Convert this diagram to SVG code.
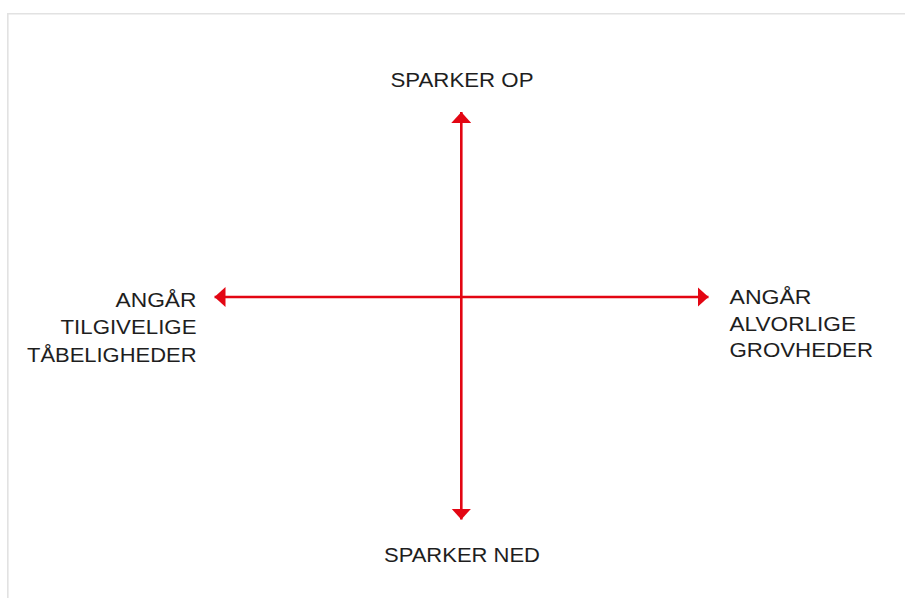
<svg xmlns="http://www.w3.org/2000/svg" width="905" height="598" viewBox="0 0 905 598">
  <style>
    .lbl { font-family: "Liberation Sans", Arial, sans-serif; font-size: 19.5px; fill: #1e1e1e; }
    .axis { stroke: #e30613; stroke-width: 2.6; fill: none; }
    .frame { stroke: #e2e2e2; stroke-width: 1.6; fill: none; }
  </style>
  <defs>
    <marker id="arrow" viewBox="0 0 11 20" refX="11" refY="10" markerWidth="11" markerHeight="20" markerUnits="userSpaceOnUse" orient="auto">
      <polygon points="0,0 11,10 0,20" fill="#e30613"/>
    </marker>
  </defs>
  <rect width="905" height="598" fill="#ffffff"/>
  <path class="frame" d="M7.8,598 V13.8 H905"/>

  <g id="connectors">
    <line class="axis" x1="461.3" y1="297" x2="461.3" y2="112" marker-end="url(#arrow)"/>
    <line class="axis" x1="461.3" y1="297" x2="461.3" y2="519.5" marker-end="url(#arrow)"/>
    <line class="axis" x1="461.3" y1="297" x2="214.5" y2="297" marker-end="url(#arrow)"/>
    <line class="axis" x1="461.3" y1="297" x2="708.5" y2="297" marker-end="url(#arrow)"/>
  </g>

  <g id="node-top">
    <text class="lbl" x="390.5" y="86.5" textLength="143" lengthAdjust="spacingAndGlyphs">SPARKER OP</text>
  </g>
  <g id="node-bottom">
    <text class="lbl" x="384" y="561.7" textLength="156" lengthAdjust="spacingAndGlyphs">SPARKER NED</text>
  </g>
  <g id="node-left">
    <text class="lbl" x="115.5" y="307.2" textLength="81" lengthAdjust="spacingAndGlyphs">ANGÅR</text>
    <text class="lbl" x="60.5" y="334" textLength="136" lengthAdjust="spacingAndGlyphs">TILGIVELIGE</text>
    <text class="lbl" x="27" y="361.5" textLength="169.5" lengthAdjust="spacingAndGlyphs">TÅBELIGHEDER</text>
  </g>
  <g id="node-right">
    <text class="lbl" x="729.5" y="304" textLength="82" lengthAdjust="spacingAndGlyphs">ANGÅR</text>
    <text class="lbl" x="729.5" y="330.6" textLength="126.5" lengthAdjust="spacingAndGlyphs">ALVORLIGE</text>
    <text class="lbl" x="729.5" y="356.5" textLength="143.5" lengthAdjust="spacingAndGlyphs">GROVHEDER</text>
  </g>
</svg>
